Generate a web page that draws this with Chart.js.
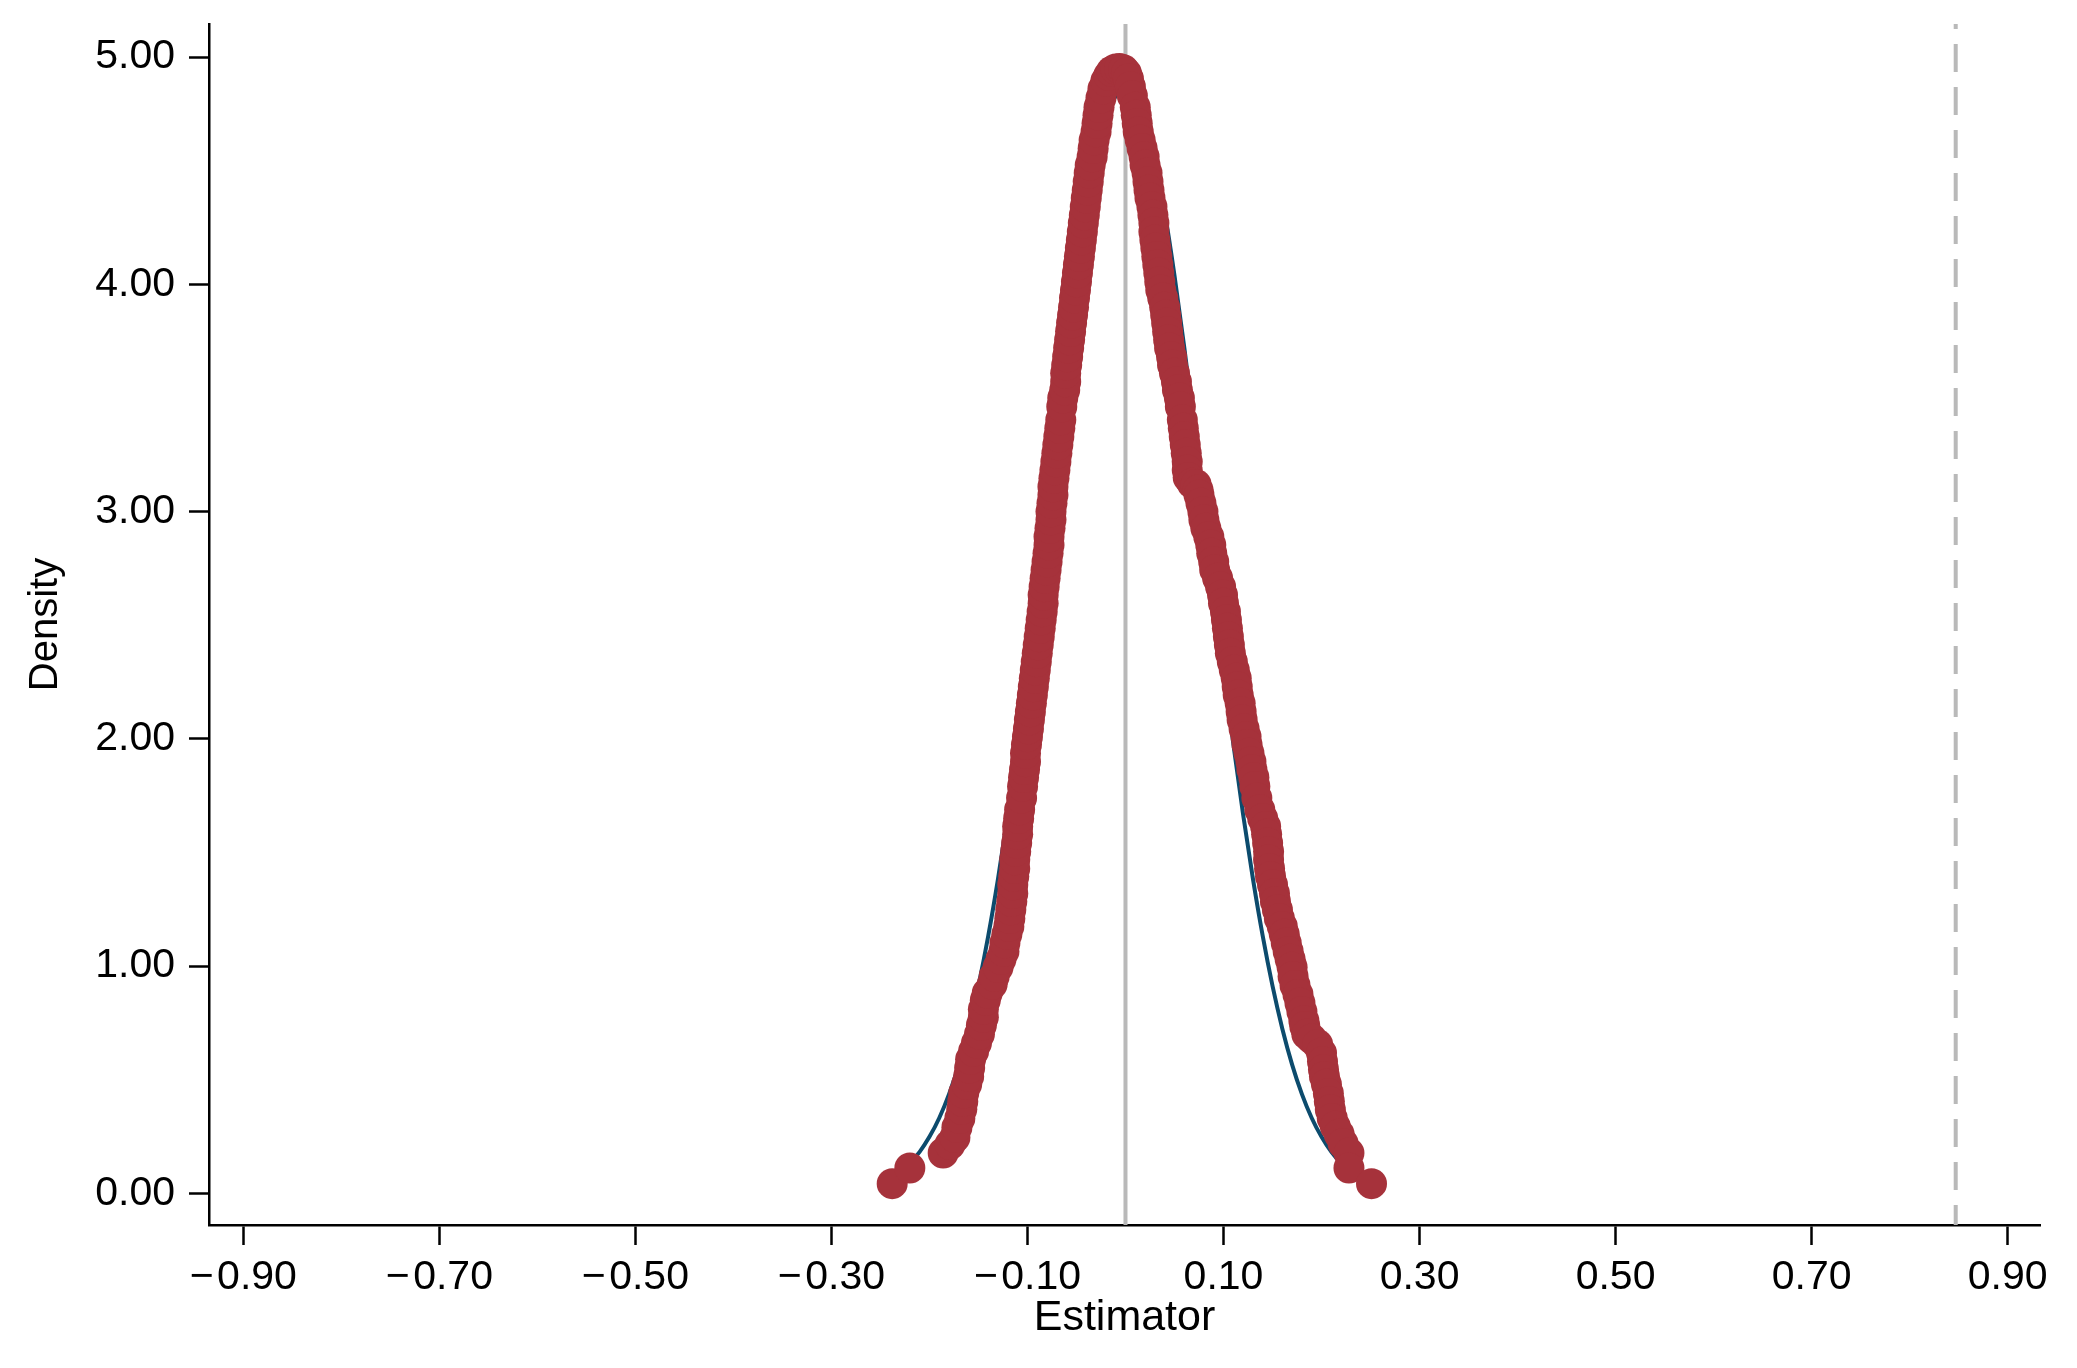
<!DOCTYPE html>
<html>
<head>
<meta charset="utf-8">
<script src="https://cdn.jsdelivr.net/npm/chart.js@4.4.1/dist/chart.umd.min.js"></script>
<style>
  html, body { margin: 0; padding: 0; background: #fff; }
  #wrap { width: 2077px; height: 1368px; position: relative; }
</style>
</head>
<body>
<div id="wrap"><canvas id="chart"></canvas></div>
<script>
// axis ticks and labels
const xTicks = [-0.9, -0.7, -0.5, -0.3, -0.1, 0.1, 0.3, 0.5, 0.7, 0.9]
const xTickLabels = ["−\u200A0.90", "−\u200A0.70", "−\u200A0.50", "−\u200A0.30", "−\u200A0.10", "0.10", "0.30", "0.50", "0.70", "0.90"]
const yTicks = [0, 1, 2, 3, 4, 5]
const yTickLabels = ["0.00", "1.00", "2.00", "3.00", "4.00", "5.00"]

// axis ranges
const xMin = -0.935
const xMax = 0.933
const yMin = -0.139
const yMax = 5.146

// reference lines
const zeroLine = 0
const trueValue = 0.847

// estimator density, rising side (bottom-left up to the peak)
const redRising = [
  [-0.238, 0.043], [-0.220, 0.112], [-0.186, 0.178], [-0.179, 0.215], [-0.174, 0.246],
  [-0.172, 0.290], [-0.169, 0.330], [-0.167, 0.370], [-0.166, 0.405], [-0.165, 0.442],
  [-0.162, 0.480], [-0.160, 0.515], [-0.159, 0.552], [-0.158, 0.590], [-0.155, 0.625],
  [-0.152, 0.662], [-0.149, 0.700], [-0.147, 0.740], [-0.145, 0.775], [-0.145, 0.810],
  [-0.143, 0.850], [-0.141, 0.882], [-0.136, 0.920], [-0.134, 0.955], [-0.130, 0.995],
  [-0.127, 1.030], [-0.124, 1.065], [-0.123, 1.102], [-0.121, 1.140], [-0.119, 1.175],
  [-0.118, 1.210], [-0.117, 1.248], [-0.116, 1.285], [-0.115, 1.320], [-0.115, 1.358],
  [-0.114, 1.395], [-0.113, 1.430], [-0.113, 1.468], [-0.112, 1.505], [-0.111, 1.542],
  [-0.110, 1.580], [-0.110, 1.615], [-0.109, 1.650], [-0.108, 1.688], [-0.106, 1.740],
  [-0.105, 1.791], [-0.104, 1.830], [-0.103, 1.865], [-0.102, 1.900], [-0.102, 1.937],
  [-0.101, 1.975], [-0.100, 2.010], [-0.099, 2.045], [-0.098, 2.084], [-0.097, 2.120],
  [-0.096, 2.157], [-0.095, 2.193], [-0.094, 2.230], [-0.093, 2.267], [-0.092, 2.303],
  [-0.091, 2.340], [-0.090, 2.377], [-0.089, 2.414], [-0.088, 2.450], [-0.087, 2.487],
  [-0.086, 2.524], [-0.085, 2.560], [-0.084, 2.597], [-0.084, 2.633], [-0.083, 2.670],
  [-0.082, 2.707], [-0.081, 2.743], [-0.080, 2.780], [-0.079, 2.817], [-0.078, 2.853],
  [-0.078, 2.890], [-0.077, 2.927], [-0.076, 2.964], [-0.076, 3.000], [-0.075, 3.037],
  [-0.074, 3.073], [-0.074, 3.110], [-0.073, 3.147], [-0.072, 3.183], [-0.071, 3.220],
  [-0.070, 3.257], [-0.069, 3.294], [-0.068, 3.330], [-0.067, 3.367], [-0.066, 3.404],
  [-0.065, 3.462], [-0.064, 3.500], [-0.062, 3.535], [-0.061, 3.572], [-0.061, 3.609],
  [-0.060, 3.645], [-0.059, 3.682], [-0.058, 3.720], [-0.057, 3.756], [-0.056, 3.793],
  [-0.055, 3.830], [-0.054, 3.865], [-0.053, 3.900], [-0.052, 3.940], [-0.051, 3.975],
  [-0.050, 4.012], [-0.049, 4.050], [-0.048, 4.087], [-0.047, 4.123], [-0.046, 4.160],
  [-0.045, 4.196], [-0.044, 4.232], [-0.043, 4.270], [-0.042, 4.305], [-0.041, 4.342],
  [-0.040, 4.380], [-0.039, 4.415], [-0.038, 4.452], [-0.037, 4.490], [-0.036, 4.525],
  [-0.034, 4.562], [-0.033, 4.598], [-0.032, 4.635], [-0.030, 4.672], [-0.029, 4.708],
  [-0.028, 4.745], [-0.027, 4.780], [-0.025, 4.820], [-0.023, 4.860], [-0.020, 4.895],
  [-0.017, 4.920], [-0.014, 4.938], [-0.010, 4.948], [-0.006, 4.950], [-0.002, 4.945]
]

// estimator density, falling side (peak down to bottom-right)
const redFalling = [
  [0.001, 4.930], [0.003, 4.905], [0.005, 4.870], [0.007, 4.830], [0.010, 4.780],
  [0.011, 4.745], [0.012, 4.708], [0.013, 4.672], [0.015, 4.635], [0.017, 4.598],
  [0.019, 4.562], [0.020, 4.525], [0.022, 4.490], [0.023, 4.452], [0.024, 4.415],
  [0.025, 4.380], [0.027, 4.342], [0.028, 4.305], [0.029, 4.270], [0.029, 4.232],
  [0.030, 4.196], [0.031, 4.160], [0.032, 4.123], [0.033, 4.087], [0.034, 4.050],
  [0.035, 4.012], [0.036, 3.975], [0.038, 3.940], [0.040, 3.900], [0.041, 3.865],
  [0.042, 3.830], [0.043, 3.793], [0.044, 3.756], [0.045, 3.720], [0.047, 3.682],
  [0.048, 3.645], [0.050, 3.609], [0.052, 3.572], [0.053, 3.535], [0.055, 3.500],
  [0.056, 3.462], [0.058, 3.404], [0.059, 3.367], [0.060, 3.330], [0.061, 3.294],
  [0.062, 3.257], [0.063, 3.220], [0.063, 3.183], [0.064, 3.150], [0.068, 3.125],
  [0.072, 3.120], [0.074, 3.095], [0.075, 3.073], [0.077, 3.037], [0.079, 3.000],
  [0.080, 2.964], [0.082, 2.927], [0.085, 2.890], [0.087, 2.853], [0.088, 2.817],
  [0.090, 2.780], [0.091, 2.744], [0.094, 2.707], [0.097, 2.670], [0.099, 2.633],
  [0.100, 2.597], [0.102, 2.560], [0.103, 2.524], [0.104, 2.487], [0.105, 2.450],
  [0.106, 2.414], [0.107, 2.377], [0.109, 2.340], [0.111, 2.303], [0.113, 2.267],
  [0.114, 2.230], [0.115, 2.193], [0.117, 2.157], [0.118, 2.120], [0.119, 2.084],
  [0.121, 2.045], [0.123, 2.010], [0.124, 1.975], [0.126, 1.937], [0.128, 1.900],
  [0.129, 1.865], [0.131, 1.830], [0.132, 1.791], [0.134, 1.740], [0.137, 1.688],
  [0.140, 1.650], [0.143, 1.615], [0.144, 1.580], [0.145, 1.542], [0.146, 1.505],
  [0.146, 1.468], [0.147, 1.430], [0.148, 1.395], [0.150, 1.358], [0.152, 1.320],
  [0.153, 1.285], [0.155, 1.248], [0.157, 1.210], [0.160, 1.175], [0.162, 1.140],
  [0.164, 1.102], [0.166, 1.065], [0.168, 1.030], [0.170, 0.995], [0.171, 0.955],
  [0.173, 0.915], [0.176, 0.875], [0.178, 0.838], [0.180, 0.800], [0.182, 0.760],
  [0.183, 0.735], [0.185, 0.700], [0.190, 0.680], [0.196, 0.655], [0.200, 0.618],
  [0.201, 0.580], [0.202, 0.545], [0.203, 0.515], [0.205, 0.480], [0.207, 0.440],
  [0.208, 0.405], [0.209, 0.368], [0.211, 0.330], [0.214, 0.295], [0.218, 0.260],
  [0.222, 0.220], [0.228, 0.178], [0.228, 0.112], [0.251, 0.043]
]

// normal density overlay
const blueX = [-0.24, -0.23, -0.22, -0.21, -0.20, -0.19, -0.18, -0.17, -0.16, -0.15,
  -0.14, -0.13, -0.12, -0.11, -0.10, -0.09, -0.08, -0.07, -0.06, -0.05,
  -0.04, -0.03, -0.02, -0.01, 0.00, 0.01, 0.02, 0.03, 0.04, 0.05,
  0.06, 0.07, 0.08, 0.09, 0.10, 0.11, 0.12, 0.13, 0.14, 0.15,
  0.16, 0.17, 0.18, 0.19, 0.20, 0.21, 0.22, 0.23, 0.24, 0.25]
const blueY = [0.067, 0.095, 0.133, 0.183, 0.249, 0.332, 0.437, 0.567, 0.725, 0.913,
  1.133, 1.385, 1.667, 1.979, 2.313, 2.664, 3.023, 3.379, 3.722, 4.039,
  4.319, 4.550, 4.722, 4.829, 4.865, 4.829, 4.722, 4.550, 4.319, 4.039,
  3.722, 3.379, 3.023, 2.664, 2.313, 1.979, 1.667, 1.385, 1.133, 0.913,
  0.725, 0.567, 0.437, 0.332, 0.249, 0.183, 0.133, 0.095, 0.067, 0.047]

const red = "#a6323b"
const navy = "#0c4b6d"
const gray = "#b9b9b9"

Chart.defaults.font.family = "'Liberation Sans', Arial, sans-serif"
Chart.defaults.color = "#000"

const toPoint = ([x, y]) => ({ x, y })

new Chart(document.getElementById("chart"), {
  type: "scatter",
  data: {
    datasets: [
      {
        label: "Estimator",
        data: redRising.concat(redFalling).map(toPoint),
        pointRadius: 15.5,
        pointBackgroundColor: red,
        pointBorderColor: red,
        pointBorderWidth: 0,
        showLine: false,
        order: 1
      },
      {
        label: "Normal",
        type: "line",
        data: blueX.map((x, i) => ({ x: x, y: blueY[i] })),
        borderColor: navy,
        borderWidth: 4,
        pointRadius: 0,
        cubicInterpolationMode: "monotone",
        fill: false,
        order: 2
      },
      {
        label: "Zero",
        type: "line",
        data: [{ x: zeroLine, y: yMin }, { x: zeroLine, y: yMax }],
        borderColor: gray,
        borderWidth: 4,
        pointRadius: 0,
        fill: false,
        order: 3
      },
      {
        label: "True value",
        type: "line",
        data: [{ x: trueValue, y: yMax }, { x: trueValue, y: yMin }],
        borderColor: gray,
        borderWidth: 4,
        borderDash: [28, 15],
        borderDashOffset: 23,
        pointRadius: 0,
        fill: false,
        order: 3
      }
    ]
  },
  options: {
    responsive: true,
    maintainAspectRatio: false,
    animation: false,
    events: [],
    layout: { padding: { top: 24, right: 37, left: 0, bottom: 0 } },
    plugins: {
      legend: { display: false },
      tooltip: { enabled: false }
    },
    scales: {
      x: {
        type: "linear",
        min: xMin,
        max: xMax,
        afterBuildTicks: (scale) => { scale.ticks = xTicks.map(v => ({ value: v })) },
        afterFit: (scale) => { scale.height = 143; scale.paddingLeft = 0; scale.paddingRight = 0 },
        ticks: {
          callback: (value, index) => xTickLabels[index],
          font: { size: 41 },
          color: "#000",
          padding: 8,
          maxRotation: 0,
          autoSkip: false
        },
        grid: { drawOnChartArea: false, drawTicks: true, tickLength: 20, tickColor: "#000", tickWidth: 2.5 },
        border: { display: true, color: "#000", width: 2.5 },
        title: { display: true, text: "Estimator", font: { size: 43 }, color: "#000", padding: { top: 0, bottom: 24 } }
      },
      y: {
        type: "linear",
        min: yMin,
        max: yMax,
        afterBuildTicks: (scale) => { scale.ticks = yTicks.map(v => ({ value: v })) },
        afterFit: (scale) => { scale.width = 209; scale.paddingTop = 0; scale.paddingBottom = 0 },
        ticks: {
          callback: (value, index) => yTickLabels[index],
          font: { size: 41 },
          color: "#000",
          padding: 14,
          autoSkip: false
        },
        grid: { drawOnChartArea: false, drawTicks: true, tickLength: 20, tickColor: "#000", tickWidth: 2.5 },
        border: { display: true, color: "#000", width: 2.5 },
        title: { display: true, text: "Density", font: { size: 40 }, color: "#000", padding: { top: 22, bottom: 0 } }
      }
    }
  }
})
</script>
</body>
</html>
